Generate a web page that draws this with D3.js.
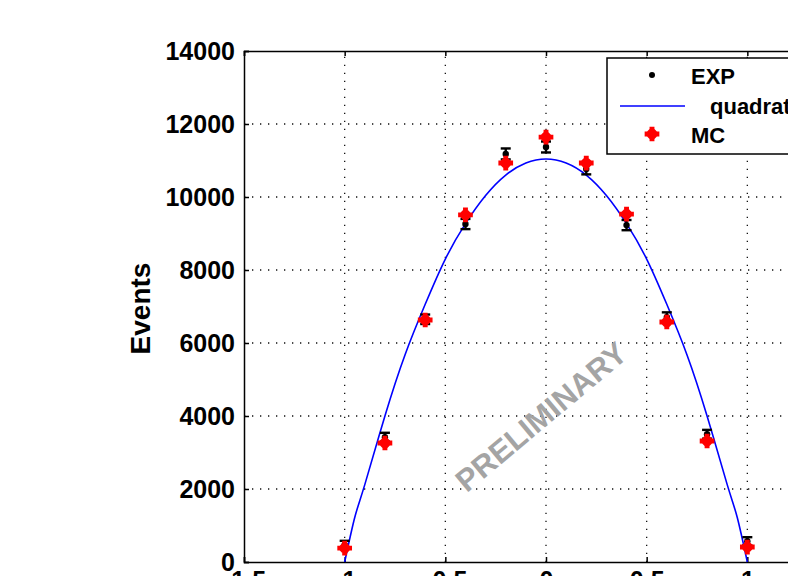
<!DOCTYPE html>
<html><head><meta charset="utf-8">
<script src="https://cdn.jsdelivr.net/npm/d3@7"></script>
<style>
html,body{margin:0;padding:0;background:#fff;overflow:hidden;}
svg{display:block;}
text{font-family:"Liberation Sans",Arial,Helvetica,sans-serif;}
</style></head>
<body>
<svg id="c" width="788" height="576"></svg>
<script>
// ---- data ----
const xPoints   = [-1, -0.8, -0.6, -0.4, -0.2, 0, 0.2, 0.4, 0.6, 0.8, 1];
const expValues = [470, 3420, 6650, 9260, 11180, 11370, 10770, 9230, 6710, 3500, 570];
const expErrors = [110, 120, 130, 140, 150, 150, 150, 140, 130, 120, 110];
const mcValues  = [380, 3260, 6630, 9510, 10930, 11640, 10930, 9530, 6575, 3315, 410];
const fitX      = [-1, -0.95, -0.9, -0.8, -0.7, -0.6, -0.5, -0.4, -0.3, -0.2, -0.1, 0, 0.1, 0.2, 0.3, 0.4, 0.5, 0.6, 0.7, 0.8, 0.9, 0.95, 1];
const fitY      = [0, 1220, 2120, 4000, 5680, 7060, 8300, 9270, 10040, 10600, 10930, 11040, 10930, 10600, 10040, 9270, 8300, 7060, 5680, 4000, 2120, 1220, 0];
const xTicks    = [-1.5, -1, -0.5, 0, 0.5, 1, 1.5];
const yTicks    = [0, 2000, 4000, 6000, 8000, 10000, 12000, 14000];
const legendLabels = ["EXP", "quadratic fit", "MC"];
const yLabel = "Events";
const watermark = "PRELIMINARY";

// ---- layout ----
const L = 244, T = 51, R = 848, B = 562;
const x = d3.scaleLinear().domain([-1.5, 1.5]).range([L, R]);
const y = d3.scaleLinear().domain([0, 14000]).range([B, T]);
const svg = d3.select("#c");

// grid
const grid = svg.append("g").attr("stroke", "#111").attr("stroke-width", 1.3)
  .attr("stroke-dasharray", "1.3,6.7").attr("fill", "none");
grid.selectAll(".gx").data(xTicks.filter(t => t > -1.5 && t < 1.5)).join("line")
  .attr("x1", d => x(d)).attr("x2", d => x(d)).attr("y1", B).attr("y2", T);
grid.selectAll(".gy").data(yTicks.filter(t => t > 0 && t < 14000)).join("line")
  .attr("x1", L).attr("x2", R).attr("y1", d => y(d)).attr("y2", d => y(d));

// axes
const fontTick = "bold 25px 'Liberation Sans', Arial, sans-serif";
const axL = svg.append("g").attr("transform", `translate(${L},0)`)
  .call(d3.axisLeft(y).tickValues(yTicks).tickSize(-5).tickPadding(9).tickFormat(d3.format("d")));
const axB = svg.append("g").attr("transform", `translate(0,${B})`)
  .call(d3.axisBottom(x).tickValues(xTicks).tickSize(-5).tickPadding(9).tickFormat(d => String(d)));
const axT = svg.append("g").attr("transform", `translate(0,${T})`)
  .call(d3.axisTop(x).tickValues(xTicks).tickSize(-5).tickFormat(""));
[axL, axB, axT].forEach(a => {
  a.select(".domain").attr("stroke", "#000").attr("stroke-width", 1.5);
  a.selectAll(".tick line").attr("stroke", "#000").attr("stroke-width", 1.5);
  a.selectAll("text").style("font", fontTick).attr("fill", "#000");
});
axB.selectAll("text").attr("dy", "0.71em");

// y label
svg.append("text").attr("transform", `translate(150,${(T + B) / 2 + 2}) rotate(-90)`)
  .attr("text-anchor", "middle").style("font", "bold 28px 'Liberation Sans', Arial, sans-serif")
  .text(yLabel);

// watermark
svg.append("text").attr("transform", "translate(548,425) rotate(-40)")
  .attr("text-anchor", "middle").attr("fill", "#a4a4a4")
  .style("font", "bold 31px 'Liberation Sans', Arial, sans-serif").text(watermark);

// fit curve
const fitData = fitX.map((v, i) => [v, fitY[i]]);
svg.append("path").datum(fitData)
  .attr("d", d3.line().x(d => x(d[0])).y(d => y(d[1])).curve(d3.curveNatural))
  .attr("fill", "none").attr("stroke", "#0000ff").attr("stroke-width", 1.6);

// EXP points with error bars
const expData = xPoints.map((v, i) => ({x: v, y: expValues[i], e: expErrors[i]}));
const eg = svg.append("g").attr("stroke", "#000").attr("stroke-width", 2.4);
eg.selectAll(".eb").data(expData).join("line")
  .attr("x1", d => x(d.x)).attr("x2", d => x(d.x))
  .attr("y1", d => y(d.y - d.e)).attr("y2", d => y(d.y + d.e));
eg.selectAll(".ct").data(expData).join("line")
  .attr("x1", d => x(d.x) - 5).attr("x2", d => x(d.x) + 5)
  .attr("y1", d => y(d.y + d.e)).attr("y2", d => y(d.y + d.e));
eg.selectAll(".cb").data(expData).join("line")
  .attr("x1", d => x(d.x) - 5).attr("x2", d => x(d.x) + 5)
  .attr("y1", d => y(d.y - d.e)).attr("y2", d => y(d.y - d.e));
svg.append("g").selectAll("circle").data(expData).join("circle")
  .attr("cx", d => x(d.x)).attr("cy", d => y(d.y)).attr("r", 3.2).attr("fill", "#000");

// MC markers
const crossBig = d3.symbol().type(d3.symbolCross).size(120)();
const crossSmall = d3.symbol().type(d3.symbolCross).size(60)();
function mcMarker(g) {
  g.append("path").attr("d", crossBig).attr("fill", "#ff0000");
  g.append("path").attr("d", crossSmall).attr("fill", "#ff0000").attr("transform", "rotate(45)");
}
const mcData = xPoints.map((v, i) => ({x: v, y: mcValues[i]}));
svg.append("g").selectAll("g").data(mcData).join("g")
  .attr("transform", d => `translate(${x(d.x)},${y(d.y)})`)
  .each(function () { mcMarker(d3.select(this)); });

// legend
const lg = svg.append("g");
lg.append("rect").attr("x", 607).attr("y", 58).attr("width", 220).attr("height", 96)
  .attr("fill", "#fff").attr("stroke", "#000").attr("stroke-width", 1.5);
const lfont = "bold 22px 'Liberation Sans', Arial, sans-serif";
lg.append("circle").attr("cx", 652).attr("cy", 75).attr("r", 3).attr("fill", "#000");
lg.append("text").attr("x", 691).attr("y", 84).style("font", lfont).text(legendLabels[0]);
lg.append("line").attr("x1", 620).attr("x2", 685).attr("y1", 106).attr("y2", 106)
  .attr("stroke", "#0000ff").attr("stroke-width", 1.6);
lg.append("text").attr("x", 710).attr("y", 114).style("font", lfont).text(legendLabels[1]);
const lm = lg.append("g").attr("transform", "translate(652,134)");
mcMarker(lm);
lg.append("text").attr("x", 691).attr("y", 143).style("font", lfont).text(legendLabels[2]);
</script>
</body></html>
